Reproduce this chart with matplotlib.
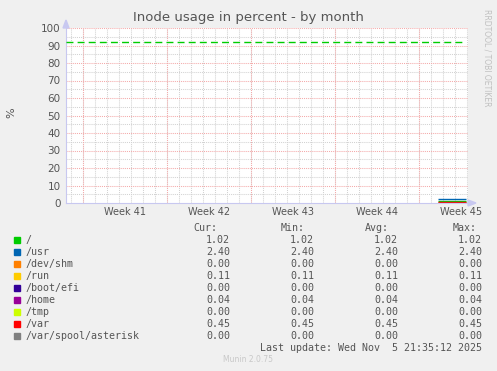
import matplotlib
matplotlib.use("Agg")
import matplotlib.pyplot as plt
from matplotlib.patches import Rectangle, Polygon

# ---- data ----
labels = ["/", "/usr", "/dev/shm", "/run", "/boot/efi", "/home", "/tmp", "/var", "/var/spool/asterisk"]
colors = ["#00CC00", "#0066B3", "#FF8000", "#FFCC00", "#330099", "#990099", "#CCFF00", "#FF0000", "#808080"]
cur = [1.02, 2.40, 0.00, 0.11, 0.00, 0.04, 0.00, 0.45, 0.00]
vmin = [1.02, 2.40, 0.00, 0.11, 0.00, 0.04, 0.00, 0.45, 0.00]
vavg = [1.02, 2.40, 0.00, 0.11, 0.00, 0.04, 0.00, 0.45, 0.00]
vmax = [1.02, 2.40, 0.00, 0.11, 0.00, 0.04, 0.00, 0.45, 0.00]
data_days = [31.0, 33.3]           # time span (days from left edge) where data exists
week_starts = [1.4, 8.4, 15.4, 22.4, 29.4]
week_labels = ["Week 41", "Week 42", "Week 43", "Week 44", "Week 45"]
warning_level = 92
x_range = [0, 33.5]
y_ticks = [0, 10, 20, 30, 40, 50, 60, 70, 80, 90, 100]

W, H = 497, 371
fig = plt.figure(figsize=(W / 100, H / 100), dpi=100)
fig.patch.set_facecolor("#F0F0F0")

def fx(px):
    return px / W

def fy(py):
    return 1 - py / H

left, right, top, bottom = 66, 468, 28, 203
ax = fig.add_axes([fx(left), fy(bottom), fx(right - left), (bottom - top) / H])
ax.set_facecolor("white")
ax.set_xlim(*x_range)
ax.set_ylim(0, 100)

# grid
dots = (0, (1, 1))
minor_days = [d for d in [week_starts[0] - 1 + i for i in range(0, 40)] if x_range[0] < d < x_range[1]]
for d in minor_days:
    ax.axvline(d, color="#D2D2D2", lw=0.75, ls=dots, zorder=0)
for v in range(5, 100, 10):
    ax.axhline(v, color="#D2D2D2", lw=0.75, ls=dots, zorder=0)
for d in week_starts:
    ax.axvline(d, color="#F4AAAA", lw=0.75, ls=dots, zorder=1)
for v in y_ticks[1:]:
    ax.axhline(v, color="#F4AAAA", lw=0.75, ls=dots, zorder=1)

# warning line
ax.axhline(warning_level, xmin=0, xmax=(x_range[1] - 0.5) / x_range[1], color="#00CC00",
           lw=1.0, ls=(0, (5, 3)), zorder=3)

# data lines
for lab, c, v in zip(labels, colors, cur):
    ax.plot(data_days, [v, v], color=c, lw=1.0, zorder=4, solid_capstyle="butt")

# ticks
ax.set_yticks(y_ticks)
ax.set_yticklabels([str(t) for t in y_ticks], fontsize=7.5, color="#555555")
centers = [s + 3.5 for s in week_starts]
ax.set_xticks(centers)
ax.set_xticklabels(week_labels, fontsize=7, color="#555555")
ax.tick_params(axis="both", length=0, pad=3)
ax.tick_params(axis="y", pad=4)

for s in ["top", "right"]:
    ax.spines[s].set_visible(False)
for s in ["left", "bottom"]:
    ax.spines[s].set_color("#C8C8F0")
    ax.spines[s].set_linewidth(0.8)

# arrows
fig.patches.append(Polygon([[fx(63), fy(28)], [fx(69), fy(28)], [fx(66), fy(20)]],
                           closed=True, transform=fig.transFigure, color="#C8C8F0"))
fig.patches.append(Polygon([[fx(468), fy(200)], [fx(468), fy(206)], [fx(476), fy(203)]],
                           closed=True, transform=fig.transFigure, color="#C8C8F0"))

# title & labels
fig.text(fx(248), fy(18), "Inode usage in percent - by month", ha="center", va="center",
         fontsize=9.5, color="#555555")
fig.text(fx(11), fy(113), "%", ha="center", va="center", rotation=90, fontsize=8, color="#555555")
fig.text(fx(487), fy(58), "RRDTOOL / TOBI OETIKER", ha="center", va="center", rotation=270,
         fontsize=5.5, color="#C0C0C0")

# legend
mono = "DejaVu Sans Mono"
fs = 7.2
tc = "#555555"
fig.text(fx(217), fy(228), "Cur:", ha="right", va="center", family=mono, fontsize=fs, color=tc)
fig.text(fx(305), fy(228), "Min:", ha="right", va="center", family=mono, fontsize=fs, color=tc)
fig.text(fx(389), fy(228), "Avg:", ha="right", va="center", family=mono, fontsize=fs, color=tc)
fig.text(fx(477), fy(228), "Max:", ha="right", va="center", family=mono, fontsize=fs, color=tc)
for i, lab in enumerate(labels):
    y = 240 + 12 * i
    fig.patches.append(Rectangle((fx(14), fy(y + 3)), 6 / W, 6 / H, transform=fig.transFigure,
                                 color=colors[i]))
    fig.text(fx(26), fy(y), lab, ha="left", va="center", family=mono, fontsize=fs, color=tc)
    fig.text(fx(230), fy(y), f"{cur[i]:.2f}", ha="right", va="center", family=mono, fontsize=fs, color=tc)
    fig.text(fx(314), fy(y), f"{vmin[i]:.2f}", ha="right", va="center", family=mono, fontsize=fs, color=tc)
    fig.text(fx(398), fy(y), f"{vavg[i]:.2f}", ha="right", va="center", family=mono, fontsize=fs, color=tc)
    fig.text(fx(482), fy(y), f"{vmax[i]:.2f}", ha="right", va="center", family=mono, fontsize=fs, color=tc)

fig.text(fx(482), fy(348), "Last update: Wed Nov  5 21:35:12 2025", ha="right", va="center",
         family=mono, fontsize=fs, color=tc)
fig.text(fx(248), fy(359), "Munin 2.0.75", ha="center", va="center", fontsize=5.5, color="#C8C8C8")

fig.savefig("out.png", dpi=100, facecolor=fig.get_facecolor())
